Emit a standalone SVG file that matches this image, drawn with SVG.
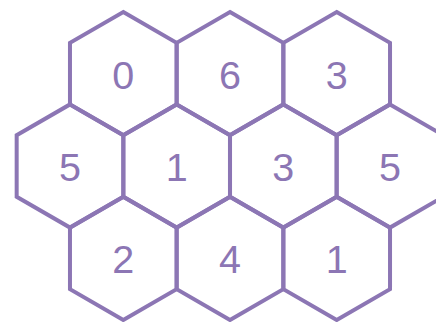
<svg xmlns="http://www.w3.org/2000/svg" xmlns:xlink="http://www.w3.org/1999/xlink" width="436" height="322" viewBox="0 0 436 322">
<style>
.hex{fill:none;stroke:#8c76b4;stroke-width:4;stroke-linejoin:miter}
.lbl{font-family:"Liberation Sans",Arial,sans-serif;font-size:39.5px;fill:#8c76b4;text-anchor:middle}
</style>
<defs>
<polygon id="h" class="hex" points="0,-61.6 53.33,-30.8 53.33,30.8 0,61.6 -53.33,30.8 -53.33,-30.8"/>
</defs>
<rect width="436" height="322" fill="#fff"/>
<g id="n0" transform="translate(123.3,73.6)"><use xlink:href="#h"/><text class="lbl" y="15">0</text></g>
<g id="n1" transform="translate(230,73.6)"><use xlink:href="#h"/><text class="lbl" y="15">6</text></g>
<g id="n2" transform="translate(336.7,73.6)"><use xlink:href="#h"/><text class="lbl" y="15">3</text></g>
<g id="n3" transform="translate(70,166)"><use xlink:href="#h"/><text class="lbl" y="15">5</text></g>
<g id="n4" transform="translate(176.7,166)"><use xlink:href="#h"/><text class="lbl" y="15">1</text></g>
<g id="n5" transform="translate(283.3,166)"><use xlink:href="#h"/><text class="lbl" y="15">3</text></g>
<g id="n6" transform="translate(390,166)"><use xlink:href="#h"/><text class="lbl" y="15">5</text></g>
<g id="n7" transform="translate(123.3,258.4)"><use xlink:href="#h"/><text class="lbl" y="15">2</text></g>
<g id="n8" transform="translate(230,258.4)"><use xlink:href="#h"/><text class="lbl" y="15">4</text></g>
<g id="n9" transform="translate(336.7,258.4)"><use xlink:href="#h"/><text class="lbl" y="15">1</text></g>
</svg>
